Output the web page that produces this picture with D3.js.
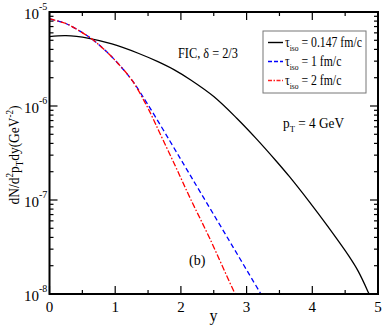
<!DOCTYPE html>
<html><head><meta charset="utf-8">
<script src="https://cdn.jsdelivr.net/npm/d3@7"></script>
<style>body{margin:0;background:#fff}svg{display:block}text{font-family:"Liberation Serif","DejaVu Serif",serif}</style>
</head><body><svg id="c" width="382" height="327"></svg>
<script>
// ---- data ----
const blackX = [0, 0.25, 0.6, 0.95, 1.35, 1.65, 1.9, 2.15, 2.5, 2.85, 3.15, 3.45, 3.65, 3.95, 4.25, 4.55, 4.7, 4.85, 4.9];
const blackY = [5.46e-6, 5.6e-6, 5.25e-6, 4.57e-6, 3.64e-6, 2.96e-6, 2.42e-6, 1.89e-6, 1.26e-6, 7.41e-7, 4.47e-7, 2.6e-7, 1.78e-7, 9.66e-8, 5.07e-8, 2.57e-8, 1.74e-8, 1.05e-8, 8.7e-9];
const blueX = [0, 0.24, 0.43, 0.65, 0.85, 1.04, 1.26, 1.45, 1.56, 1.83, 2.06, 2.29, 2.7, 3.2, 3.25];
const blueY = [8.43e-6, 7.59e-6, 6.46e-6, 5.13e-6, 3.89e-6, 2.85e-6, 1.86e-6, 1.17e-6, 8.8e-7, 4.27e-7, 2.29e-7, 1.23e-7, 4.07e-8, 1.05e-8, 9.2e-9];
const redX = [0, 0.24, 0.43, 0.65, 0.85, 1.04, 1.26, 1.45, 1.56, 1.68, 1.91, 2.14, 2.44, 2.82, 2.87];
const redY = [8.43e-6, 7.59e-6, 6.46e-6, 5.13e-6, 3.89e-6, 2.85e-6, 1.86e-6, 1.1e-6, 7.76e-7, 5.13e-7, 2.34e-7, 1.05e-7, 3.89e-8, 1.02e-8, 8.8e-9];
const xTicks = [0, 1, 2, 3, 4, 5];
const xMinor = [0.5, 1.5, 2.5, 3.5, 4.5];
const yExps = [-5, -6, -7, -8];
const legendLabels = ["= 0.147 fm/c", "= 1 fm/c", "= 2 fm/c"];

// ---- layout ----
const svg = d3.select("#c");
const L = 49.5, R = 378, T = 12, B = 294;
const x = d3.scaleLinear().domain([0, 5]).range([L, R]);
const y = d3.scaleLog().domain([1e-8, 1e-5]).range([B, T]);

svg.append("clipPath").attr("id", "pc").append("rect")
  .attr("x", L).attr("y", T).attr("width", R - L).attr("height", B - T);

const yMinor = [];
for (let e = -8; e < -5; e++) for (let k = 2; k <= 9; k++) yMinor.push(k * Math.pow(10, e));

const tk = svg.append("g").attr("stroke", "#000").attr("stroke-width", 1.2);
function vt(v, len) {
  tk.append("line").attr("x1", x(v)).attr("x2", x(v)).attr("y1", B).attr("y2", B - len);
  tk.append("line").attr("x1", x(v)).attr("x2", x(v)).attr("y1", T).attr("y2", T + len);
}
function ht(v, len) {
  tk.append("line").attr("x1", L).attr("x2", L + len).attr("y1", y(v)).attr("y2", y(v));
  tk.append("line").attr("x1", R).attr("x2", R - len).attr("y1", y(v)).attr("y2", y(v));
}
xTicks.forEach(v => vt(v, 8));
xMinor.forEach(v => vt(v, 4));
yExps.forEach(e => ht(Math.pow(10, e), 8));
yMinor.forEach(v => ht(v, 4));

// curves
const line = d3.line().x(d => x(d[0])).y(d => y(d[1])).curve(d3.curveCatmullRom.alpha(0.5));
const g = svg.append("g").attr("clip-path", "url(#pc)").attr("fill", "none");
g.append("path").attr("d", line(blackX.map((v, i) => [v, blackY[i]])))
  .attr("stroke", "#000").attr("stroke-width", 1.3);
g.append("path").attr("d", line(blueX.map((v, i) => [v, blueY[i]])))
  .attr("stroke", "#0000ff").attr("stroke-width", 1.3).attr("stroke-dasharray", "5,3");
g.append("path").attr("d", line(redX.map((v, i) => [v, redY[i]])))
  .attr("stroke", "#ff0000").attr("stroke-width", 1.3).attr("stroke-dasharray", "6,2,1.5,2");

// frame
svg.append("rect").attr("x", L).attr("y", T).attr("width", R - L).attr("height", B - T)
  .attr("fill", "none").attr("stroke", "#000").attr("stroke-width", 2);

// x tick labels
xTicks.forEach(v => {
  svg.append("text").attr("x", x(v)).attr("y", 312).attr("text-anchor", "middle")
    .attr("font-size", 15).text(v);
});
// y tick labels
yExps.forEach(e => {
  svg.append("text").attr("x", 39).attr("y", y(Math.pow(10, e)) + 7)
    .attr("text-anchor", "end").attr("font-size", 15).text("10");
  svg.append("text").attr("x", 39).attr("y", y(Math.pow(10, e)) - 2)
    .attr("font-size", 10).text("-" + (-e));
});

// axis titles
svg.append("text").attr("x", 213.5).attr("y", 321).attr("text-anchor", "middle")
  .attr("font-size", 16).text("y");
const yl = svg.append("text").attr("transform", "translate(19,155) rotate(-90) scale(0.9,1)")
  .attr("text-anchor", "middle").attr("font-size", 15);
yl.append("tspan").text("dN/d");
yl.append("tspan").attr("font-size", 10).attr("dy", -6).text("2");
yl.append("tspan").attr("dy", 6).text("p");
yl.append("tspan").attr("font-size", 10).attr("dy", 4).text("T");
yl.append("tspan").attr("dy", -4).text("dy(GeV");
yl.append("tspan").attr("font-size", 10).attr("dy", -6).text("-2");
yl.append("tspan").attr("dy", 6).text(")");

// annotations
svg.append("text").attr("transform", "translate(178,58) scale(0.88,1)").attr("font-size", 14).text("FIC, δ = 2/3");
const pt = svg.append("text").attr("transform", "translate(283,128) scale(0.95,1)").attr("font-size", 14);
pt.append("tspan").text("p");
pt.append("tspan").attr("font-size", 9).attr("dy", 4).text("T");
pt.append("tspan").attr("dy", -4).text(" = 4 GeV");
svg.append("text").attr("x", 189).attr("y", 265).attr("font-size", 14).text("(b)");

// legend
svg.append("rect").attr("x", 263).attr("y", 31).attr("width", 103).attr("height", 62)
  .attr("fill", "#fff").attr("stroke", "#777").attr("stroke-width", 1);
const lstyles = [{c: "#000", d: null}, {c: "#0000ff", d: "4,2"}, {c: "#ff2020", d: "4,1.5,1.5,1.5"}];
const ly = [42.5, 61.5, 80.5];
legendLabels.forEach((lab, i) => {
  svg.append("line").attr("x1", 268).attr("x2", 283).attr("y1", ly[i]).attr("y2", ly[i])
    .attr("stroke", lstyles[i].c).attr("stroke-width", 1.4)
    .attr("stroke-dasharray", lstyles[i].d);
  const t = svg.append("text").attr("transform", `translate(285,${ly[i] + 4.5}) scale(0.84,1)`).attr("font-size", 14);
  t.append("tspan").text("τ");
  t.append("tspan").attr("font-size", 9).attr("dy", 4).text("iso");
  t.append("tspan").attr("dy", -4).text(" " + lab);
});
</script></body></html>
